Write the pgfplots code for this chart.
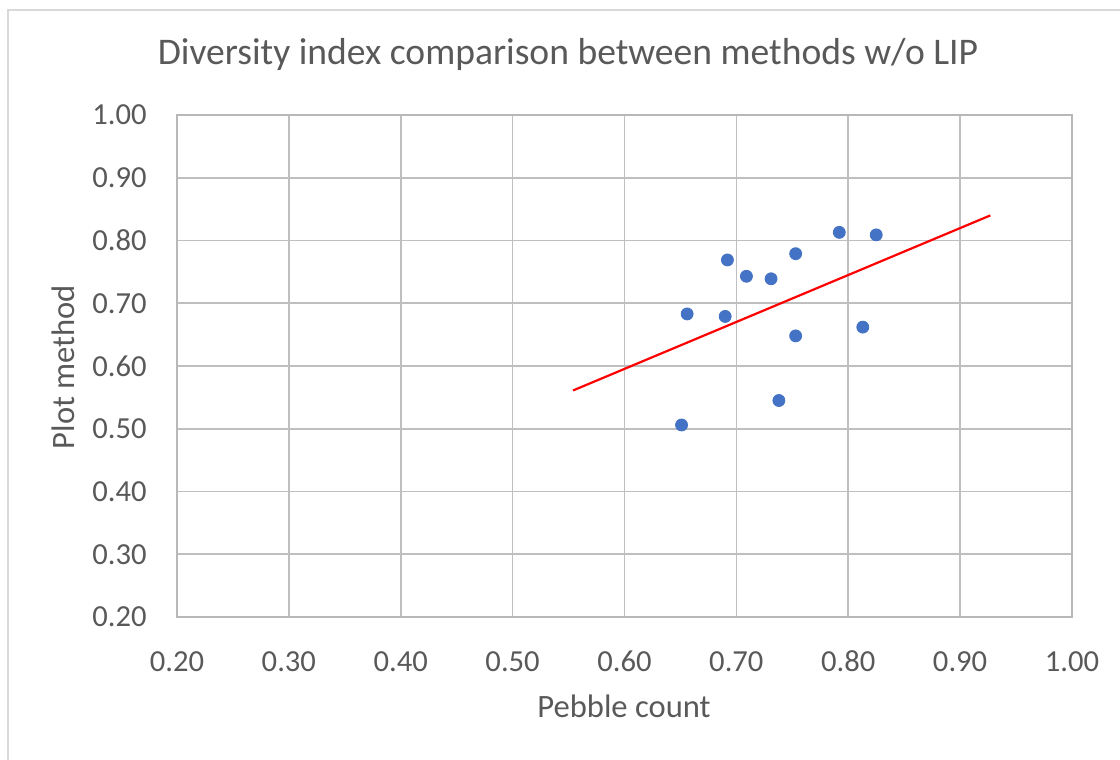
\documentclass[border=0pt]{standalone}
\usepackage{pgfplots}
\pgfplotsset{compat=1.18}
\usepackage{fontspec}
\setmainfont{Carlito}
\definecolor{txt}{HTML}{595959}
\definecolor{grid}{HTML}{D9D9D9}
\definecolor{dot}{HTML}{4472C4}
\begin{document}
\begin{tikzpicture}
\useasboundingbox (-88.5pt,-71.5pt) rectangle (471.5pt,308.5pt);
\draw[grid, line width=1.2pt] (-84.5pt,-80pt) -- (-84.5pt,303.5pt) -- (480pt,303.5pt);
\begin{axis}[
  at={(0pt,0pt)}, anchor=south west,
  scale only axis, width=447.5pt, height=251pt,
  xmin=0.2, xmax=1.0, ymin=0.2, ymax=1.0,
  xtick={0.2,0.3,...,1.0}, ytick={0.2,0.3,...,1.0},
  xticklabels={0.20,0.30,0.40,0.50,0.60,0.70,0.80,0.90,1.00},
  yticklabels={0.20,0.30,0.40,0.50,0.60,0.70,0.80,0.90,1.00},
  grid=major, major grid style={grid, line width=0.8pt},
  axis line style={grid!85!black, line width=0.8pt},
  tick style={draw=none},
  ticklabel style={font=\fontsize{15.3}{17}\selectfont, text=txt, inner sep=0pt},
  xticklabel style={anchor=center, yshift=-22.25pt},
  yticklabel style={anchor=east, xshift=-15pt},
  /pgf/number format/assume math mode=true,
  title={Diversity index comparison between methods w/o LIP},
  title style={at={(195.5pt,270pt)}, anchor=base, yshift=0pt, font=\fontsize{18.8}{22}\selectfont, text=txt},
  xlabel={Pebble count}, ylabel={Plot method},
  label style={font=\fontsize{16.3}{19}\selectfont, text=txt},
  xlabel style={at={(223.5pt,-50.4pt)}, anchor=base},
  ylabel style={at={(-57pt,125pt)}, anchor=center},
  clip=false,
]
\addplot[only marks, mark=*, mark size=3pt, mark options={fill=dot, draw=dot}] coordinates {
  (0.792,0.813) (0.825,0.809) (0.692,0.769) (0.753,0.779)
  (0.709,0.743) (0.731,0.739) (0.656,0.683) (0.690,0.679)
  (0.753,0.648) (0.813,0.662) (0.738,0.545) (0.651,0.506)
};
\addplot[red, line width=1.1pt] coordinates {(0.554,0.561) (0.927,0.840)};
\end{axis}
\end{tikzpicture}
\end{document}
